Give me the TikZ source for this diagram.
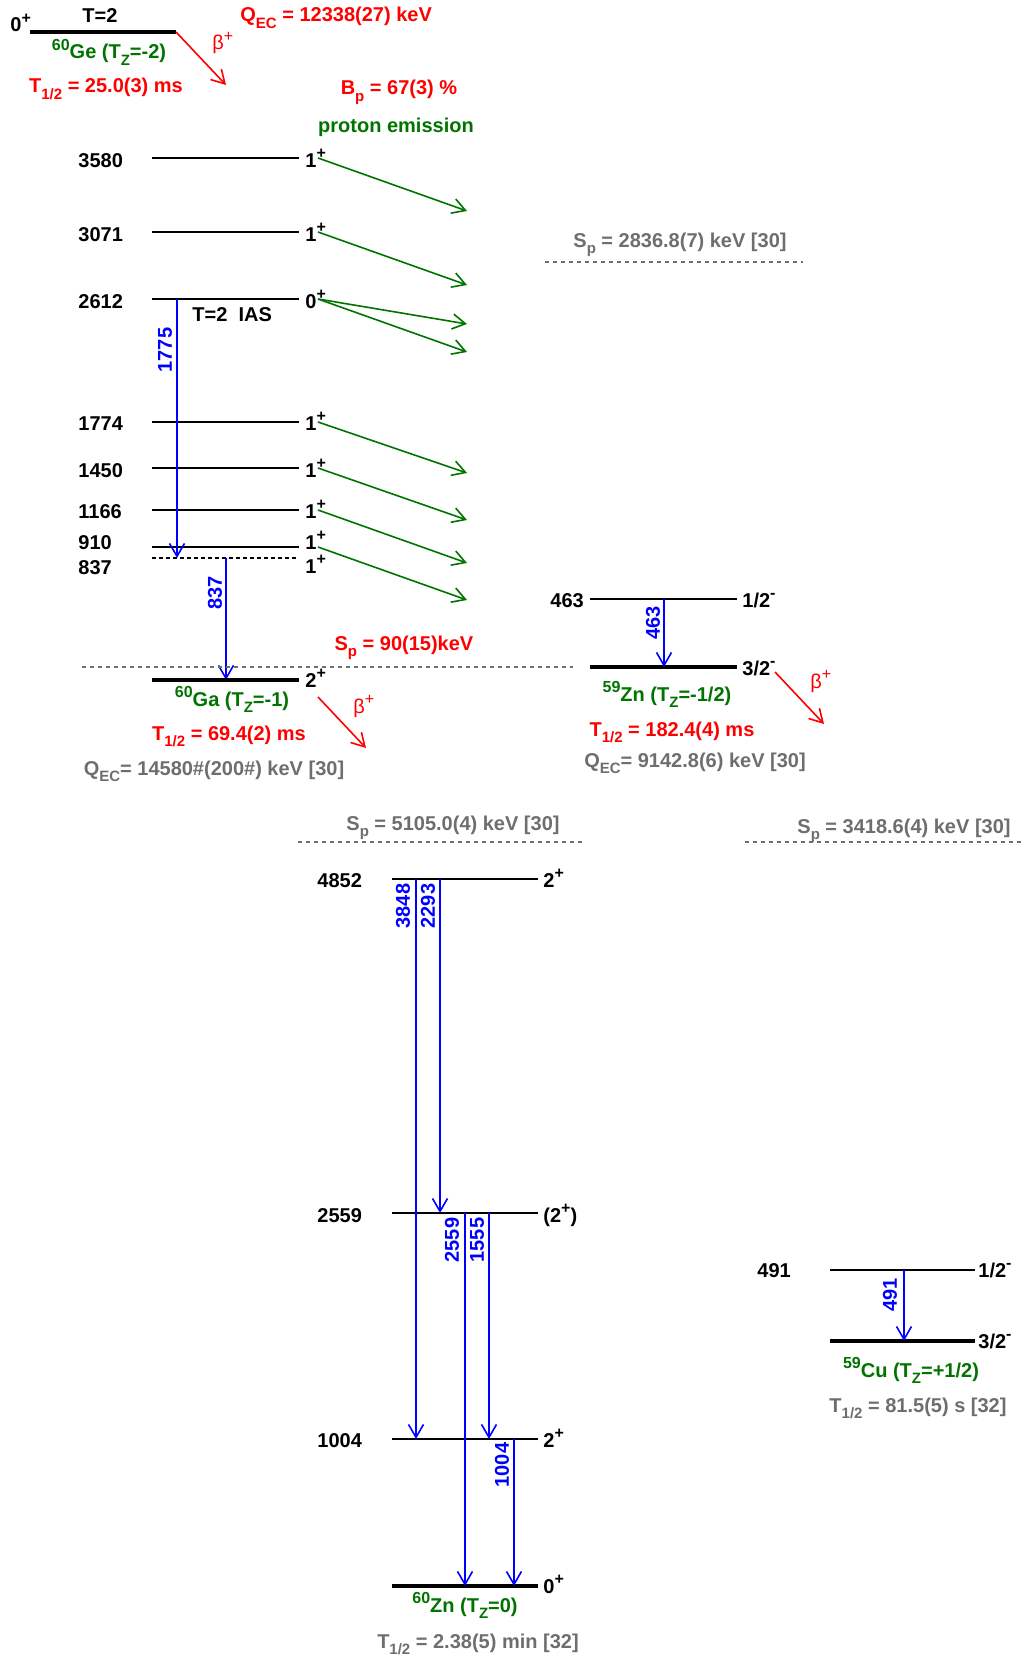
\documentclass[tikz,border=0pt]{standalone}
\usepackage{fontspec}
\setmainfont{Liberation Sans}
\usetikzlibrary{arrows.meta}
\definecolor{dgreen}{RGB}{0,115,0}
\definecolor{tgray}{RGB}{110,110,110}
\newcommand\lsb[1]{\raisebox{-0.65ex}{\fontsize{7.5}{8}\selectfont #1}}
\newcommand\lsp[1]{\raisebox{0.8ex}{\fontsize{8}{9}\selectfont #1}}
\begin{document}
\begin{tikzpicture}[x=0.5pt,y=-0.5pt,
  font=\fontsize{10}{12}\selectfont\bfseries,
  lvl/.style={line width=1pt},
  gs/.style={line width=2.2pt},
  lab/.style={inner sep=0pt,anchor=base west},
  ctr/.style={inner sep=0pt,anchor=base},
  tip/.style={-{Straight Barb[length=6.5pt,width=7.5pt]}},
  gam/.style={tip,blue,line width=0.8pt},
  pem/.style={tip,dgreen,line width=0.8pt},
  bet/.style={tip,red,line width=0.8pt},
  sep/.style={tgray,line width=0.8pt,dash pattern=on 2pt off 2pt},
  glab/.style={blue,rotate=90,inner sep=0pt},
  blab/.style={lab,red,font=\fontsize{10}{12}\selectfont\mdseries}]
\useasboundingbox (0,0) rectangle (1022,1659);

% ---------------- 60Ge ----------------
\coordinate (Ge-l) at (30,32); \coordinate (Ge-r) at (176,32);
\draw[gs] (Ge-l) -- (Ge-r);
\node[lab] (jGe) at (10,32) {0\lsp{+}};
\node[ctr] (tGe) at (100,23) {T=2};
\node[ctr,dgreen] (nGe) at (109,59) {\lsp{60}Ge (T\lsb{Z}=-2)};
\node[ctr,red] (hGe) at (106,93) {T\lsb{1/2} = 25.0(3) ms};
\coordinate (bGe) at (226,85);
\draw[bet] (Ge-r) -- (bGe);
\node[blab] (bGel) at (212,50) {β\lsp{+}};
\node[lab,red] (qGe) at (240,22) {Q\lsb{EC} = 12338(27) keV};
\node[ctr,red] (bp) at (399,95) {B\lsb{p} = 67(3) \%};
\node[ctr,dgreen] (pemi) at (396,133) {proton emission};

% ---------------- 60Ga ----------------
\foreach \E/\y/\b/\J in {3580/158/167/1, 3071/232/241/1, 2612/299/308/0, 1774/422/430/1, 1450/468/477/1, 1166/510/518/1, 910/547/549/1} {
  \coordinate (L\E-l) at (152,\y); \coordinate (L\E-r) at (299,\y);
  \draw[lvl] (L\E-l) -- (L\E-r);
  \node[lab] (e\E) at (78,\b) {\E};
  \node[lab] (j\E) at (305,\b) {\J\lsp{+}};
}
\coordinate (L837-l) at (152,558); \coordinate (L837-r) at (299,558);
\draw[lvl,dash pattern=on 2pt off 1.5pt] (L837-l) -- (L837-r);
\node[lab] (e837) at (78,574) {837};
\node[lab] (j837) at (305,573) {1\lsp{+}};
\node[lab] (ias) at (192,321) {T=2\ \ IAS};

\foreach \ys/\ye [count=\i] in {158/211, 232/285, 299/324, 299/352, 422/473, 468/520, 510/563, 547/600} {
  \coordinate (ps\i) at (318,\ys); \coordinate (pe\i) at (467,\ye);
  \draw[pem] (ps\i) -- (pe\i);
}

\coordinate (g1775a) at (177,299); \coordinate (g1775b) at (177,558);
\draw[gam] (g1775a) -- (g1775b);
\node[glab] (l1775) at (165,350) {1775};
\coordinate (g837a) at (226,558); \coordinate (g837b) at (226,680);
\draw[gam] (g837a) -- (g837b);
\node[glab] (l837) at (215,593) {837};

\coordinate (sGa-a) at (82,667); \coordinate (sGa-b) at (573,667);
\draw[sep] (sGa-a) -- (sGa-b);
\node[ctr,red] (spGa) at (404,650) {S\lsb{p} = 90(15)keV};

\coordinate (Ga-l) at (152,680); \coordinate (Ga-r) at (299,680);
\draw[gs] (Ga-l) -- (Ga-r);
\node[lab] (jGa) at (305,687) {2\lsp{+}};
\node[ctr,dgreen] (nGa) at (232,706) {\lsp{60}Ga (T\lsb{Z}=-1)};
\node[ctr,red] (hGa) at (229,740) {T\lsb{1/2} = 69.4(2) ms};
\coordinate (bGa-a) at (318,697); \coordinate (bGa-b) at (366,748);
\draw[bet] (bGa-a) -- (bGa-b);
\node[blab] (bGal) at (353,713) {β\lsp{+}};
\node[ctr,tgray] (qGa) at (214,775) {Q\lsb{EC}= 14580\#(200\#) keV [30]};

% ---------------- 59Zn ----------------
\coordinate (s59-a) at (545,262); \coordinate (s59-b) at (803,262);
\draw[sep] (s59-a) -- (s59-b);
\node[ctr,tgray] (sp59) at (680,247) {S\lsb{p} = 2836.8(7) keV [30]};

\coordinate (Z463-l) at (590,599); \coordinate (Z463-r) at (737,599);
\draw[lvl] (Z463-l) -- (Z463-r);
\node[lab] (e463) at (550,607) {463};
\node[lab] (j463) at (742,607) {1/2\lsp{-}};
\coordinate (Z0-l) at (590,667); \coordinate (Z0-r) at (737,667);
\draw[gs] (Z0-l) -- (Z0-r);
\node[lab] (jZ0) at (742,675) {3/2\lsp{-}};
\coordinate (g463a) at (664,599); \coordinate (g463b) at (664,667);
\draw[gam] (g463a) -- (g463b);
\node[glab] (l463) at (653,623) {463};
\coordinate (bZn-a) at (775,672); \coordinate (bZn-b) at (824,724);
\draw[bet] (bZn-a) -- (bZn-b);
\node[blab] (bZnl) at (810,688) {β\lsp{+}};
\node[ctr,dgreen] (nZ59) at (667,701) {\lsp{59}Zn (T\lsb{Z}=-1/2)};
\node[ctr,red] (hZ59) at (672,736) {T\lsb{1/2} = 182.4(4) ms};
\node[ctr,tgray] (qZ59) at (695,767) {Q\lsb{EC}= 9142.8(6) keV [30]};

% ---------------- 60Zn ----------------
\coordinate (s60-a) at (298,842); \coordinate (s60-b) at (582,842);
\draw[sep] (s60-a) -- (s60-b);
\node[ctr,tgray] (sp60) at (453,830) {S\lsb{p} = 5105.0(4) keV [30]};

\foreach \E/\y/\b in {4852/879/887, 2559/1213/1222, 1004/1439/1447} {
  \coordinate (N\E-l) at (392,\y); \coordinate (N\E-r) at (538,\y);
  \draw[lvl] (N\E-l) -- (N\E-r);
  \node[lab] (f\E) at (317,\b) {\E};
}
\node[lab] (k4852) at (543,887) {2\lsp{+}};
\node[lab] (k2559) at (543,1222) {(2\lsp{+})};
\node[lab] (k1004) at (543,1447) {2\lsp{+}};
\coordinate (N0-l) at (392,1586); \coordinate (N0-r) at (538,1586);
\draw[gs] (N0-l) -- (N0-r);
\node[lab] (k0) at (543,1593) {0\lsp{+}};

\coordinate (g3848a) at (416,879); \coordinate (g3848b) at (416,1439);
\draw[gam] (g3848a) -- (g3848b);
\node[glab] (l3848) at (403,906) {3848};
\coordinate (g2293a) at (440,879); \coordinate (g2293b) at (440,1213);
\draw[gam] (g2293a) -- (g2293b);
\node[glab] (l2293) at (428,906) {2293};
\coordinate (g2559a) at (465,1213); \coordinate (g2559b) at (465,1586);
\draw[gam] (g2559a) -- (g2559b);
\node[glab] (l2559) at (452,1240) {2559};
\coordinate (g1555a) at (489,1213); \coordinate (g1555b) at (489,1439);
\draw[gam] (g1555a) -- (g1555b);
\node[glab] (l1555) at (477,1240) {1555};
\coordinate (g1004a) at (514,1439); \coordinate (g1004b) at (514,1586);
\draw[gam] (g1004a) -- (g1004b);
\node[glab] (l1004) at (502,1465) {1004};

\node[ctr,dgreen] (nZ60) at (465,1612) {\lsp{60}Zn (T\lsb{Z}=0)};
\node[ctr,tgray] (hZ60) at (478,1648) {T\lsb{1/2} = 2.38(5) min [32]};

% ---------------- 59Cu ----------------
\coordinate (sCu-a) at (745,842); \coordinate (sCu-b) at (1022,842);
\draw[sep] (sCu-a) -- (sCu-b);
\node[ctr,tgray] (spCu) at (904,833) {S\lsb{p} = 3418.6(4) keV [30]};

\coordinate (C491-l) at (830,1270); \coordinate (C491-r) at (975,1270);
\draw[lvl] (C491-l) -- (C491-r);
\node[lab] (e491) at (757,1277) {491};
\node[lab] (j491) at (978,1277) {1/2\lsp{-}};
\coordinate (C0-l) at (830,1341); \coordinate (C0-r) at (975,1341);
\draw[gs] (C0-l) -- (C0-r);
\node[lab] (jC0) at (978,1348) {3/2\lsp{-}};
\coordinate (g491a) at (904,1270); \coordinate (g491b) at (904,1341);
\draw[gam] (g491a) -- (g491b);
\node[glab] (l491) at (890,1295) {491};
\node[ctr,dgreen] (nCu) at (911,1377) {\lsp{59}Cu (T\lsb{Z}=+1/2)};
\node[ctr,tgray] (hCu) at (918,1412) {T\lsb{1/2} = 81.5(5) s [32]};
\end{tikzpicture}
\end{document}
